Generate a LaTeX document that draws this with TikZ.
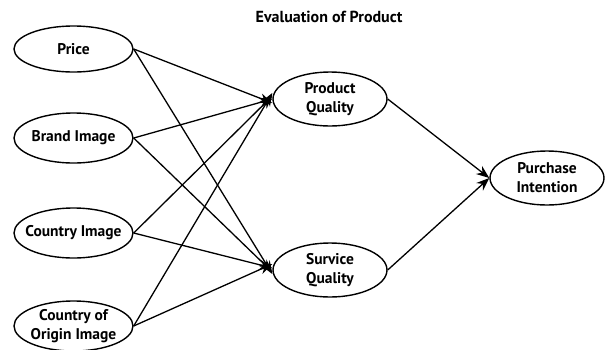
\documentclass[tikz,border=0pt]{standalone}
\usepackage{fontspec}
\setmainfont{PT Sans}
\usetikzlibrary{shapes.geometric,arrows.meta}
\begin{document}
\begin{tikzpicture}[x=1pt,y=-1pt,
  ell/.style 2 args={draw, ellipse, line width=1.4pt, minimum width=#1, minimum height=#2, inner sep=0pt},
  txt/.style={align=center, font=\fontsize{15.5}{19}\selectfont\bfseries, inner sep=0pt},
  conn/.style={line width=1.3pt, -{Stealth[length=13pt,width=10pt]}},
]
\useasboundingbox (0,0) rectangle (608,349);
\node (title) at (329,17) {\fontsize{16}{16}\selectfont\bfseries Evaluation of Product};
\node[ell={119pt}{46pt}, label={[txt]center:Price}] (price) at (73.5,49) {};
\node[ell={119pt}{50pt}, label={[txt]center:Brand Image}] (brand) at (73.5,138) {};
\node[ell={119pt}{50pt}, label={[txt]center:Country Image}] (country) at (73.5,233) {};
\node[ell={119pt}{50pt}, label={[txt]center:Country of\\Origin Image}] (origin) at (73.5,326) {};
\node[ell={114pt}{54pt}, label={[txt]center:Product\\Quality}] (pq) at (330,99) {};
\node[ell={114pt}{54pt}, label={[txt]center:Survice\\Quality}] (sq) at (330,270) {};
\node[ell={114pt}{54pt}, label={[txt]center:Purchase\\Intention}] (pi) at (547,178) {};
\foreach \s/\a/\b in {price/-4/-4, brand/0/-2, country/3/2, origin/6/6}{
  \draw[conn] (\s.east) -- ([yshift=\a pt]pq.west);
  \draw[conn] (\s.east) -- ([yshift=\b pt]sq.west);
}
\draw[conn] (pq.east) -- (pi.west);
\draw[conn] (sq.east) -- (pi.west);
\end{tikzpicture}
\end{document}
